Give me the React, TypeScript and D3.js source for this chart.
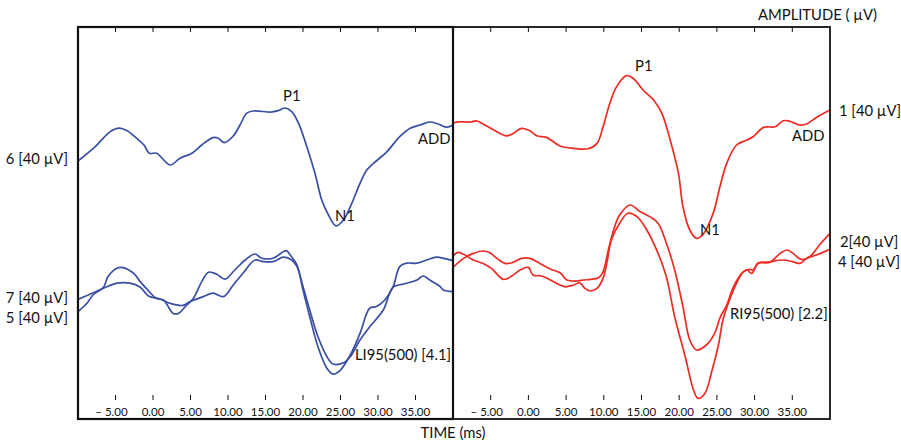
import React from 'react';
import * as d3 from 'd3';

// time (ms), amplitude (µV) relative to the channel offset
const ch6Left: [number, number][] = [
  [-10, -0.5], [-7.7, 6.7], [-5.7, 14.2], [-4.5, 15.9], [-3.5, 14.7], [-2.2, 10.9], [-1.2, 7.5], [-0.5, 3.4],
  [0.5, 3.4], [1.2, 0.9], [2.3, -2.5], [3.6, 0.9], [5.2, 3.4], [6.5, 7.5], [8.0, 11.2], [8.7, 10.9], [9.5, 8.7],
  [10.7, 12], [11.6, 17.5], [12.5, 23.4], [13.4, 24.5], [15.8, 24], [16.7, 24.7], [17.6, 26], [18.5, 24.2],
  [19.4, 18.4], [20.5, 6.7], [21.6, -6.7], [22.5, -20], [23.4, -27.5], [24.4, -32.9], [25.4, -30], [26.5, -21.7],
  [27.6, -11.7], [28.5, -5], [29.4, -1.7], [31.2, 4.2], [32.9, 11.7], [34.3, 15.9], [35.6, 17.5], [36.9, 19],
  [38.0, 18], [39.2, 16.4], [40, 17.5],
];
const ch7Left: [number, number][] = [
  [-10, -0.2], [-8.4, 2.4], [-6.6, 5.4], [-4.8, 7.9], [-3.1, 7.9], [-1.7, 5.9], [-0.6, 1.5], [0.9, 0], [2.3, -2.2],
  [4.0, -3.2], [4.9, -1.4], [6.7, 1.2], [8.0, 2.9], [9.4, 1.2], [10.7, 7], [12.0, 12.9], [13.6, 19.5], [14.7, 18.7],
  [16.0, 18.7], [17.4, 20.9], [18.5, 19.5], [19.2, 16.2], [20.0, 6.2], [20.9, -5.5], [22.0, -18.9], [23.2, -28.9],
  [24.0, -32.5], [25.4, -31.9], [26.3, -28.9], [27.6, -20.5], [28.9, -13.9], [30.7, -5.5], [32.0, 5.9], [33.4, 7.5],
  [35.2, 9.5], [36.0, 11.5], [36.9, 9.5], [38.3, 6.2], [38.7, 4.5], [40, 3.7],
];
const ch5Left: [number, number][] = [
  [-10, 0.2], [-8.8, 4.4], [-8.0, 8.5], [-6.6, 12.4], [-6.0, 17.7], [-4.8, 21.9], [-4.0, 22.2], [-2.6, 19.4],
  [-1.7, 15.2], [-0.8, 11.4], [0.5, 6.7], [1.4, 6], [2.3, 1], [2.7, -0.7], [3.4, -0.7], [4.5, 3.5], [5.4, 6.9],
  [6.5, 15.2], [7.4, 19.9], [8.5, 18.9], [9.6, 16.4], [10.9, 21], [12.3, 26], [13.6, 29], [14.5, 26.9], [16.0, 26.9],
  [17.4, 30.2], [17.8, 30.7], [18.3, 28.5], [19.2, 23.5], [20.0, 11], [20.9, -2.4], [22.0, -17.4], [23.2, -28.2],
  [24.0, -31], [24.9, -29.4], [26.3, -21.5], [27.6, -10.7], [28.9, 1.9], [29.8, 2.7], [30.9, 6], [32.0, 12.4],
  [32.9, 22.7], [33.8, 24.4], [35.2, 24.4], [36.5, 26], [37.8, 27.4], [38.9, 26.7], [40, 25.7],
];
const ch1Right: [number, number][] = [
  [-10, -6.4], [-9.1, -5.9], [-7.7, -6], [-6.9, -5.4], [-6.0, -7], [-4.4, -10.4], [-2.9, -12.9], [-2.0, -11.7],
  [-0.9, -9.2], [0.2, -10.4], [1.1, -12.9], [2.4, -13.7], [4.2, -18], [6.0, -19.2], [7.9, -19.4], [9.1, -16.7],
  [9.9, -8.4], [10.8, 3.4], [11.7, 11.7], [13.0, 17.2], [13.9, 15.9], [15.2, 10], [16.6, 5], [17.7, -1.7],
  [18.8, -15], [19.9, -31.7], [20.5, -48.4], [21.4, -60], [22.3, -64.2], [23.2, -62], [24.5, -51.7], [25.4, -38.4],
  [26.3, -26.7], [27.6, -17.5], [29.0, -15], [29.8, -13.4], [31.2, -8.7], [32.7, -8.4], [33.8, -5.4], [34.5, -5.4],
  [36.0, -7.5], [36.9, -7], [38.2, -3.7], [40, 0],
];
const ch2Right: [number, number][] = [
  [-10, -11.5], [-9.3, -9.7], [-8.4, -11], [-7.3, -13.5], [-6.0, -15.2], [-4.9, -17.7], [-3.3, -23.2], [-2.2, -21.5],
  [-1.1, -18.5], [0.0, -17.2], [0.6, -21], [1.8, -21.5], [2.9, -23.5], [4.2, -26], [4.9, -26.9], [6.0, -26],
  [6.8, -24.9], [7.5, -27.7], [8.2, -29], [9.1, -27.7], [9.9, -22.7], [10.4, -15.2], [11.0, -3.5], [12.1, 4.9],
  [13.2, 9.9], [14.4, 8.2], [15.7, 1.5], [17.2, -10.2], [18.3, -21.9], [19.4, -41.9], [20.8, -61.9], [21.9, -78.5],
  [22.5, -82.7], [23.4, -80.2], [24.3, -69.5], [25.2, -56], [25.8, -43.5], [26.5, -35.2], [27.6, -25.2],
  [28.5, -19.4], [29.4, -18.2], [29.8, -18.5], [30.5, -14.9], [32.0, -14.7], [33.4, -10.2], [34.3, -8.5],
  [35.1, -10.2], [36.2, -13.2], [37.3, -11.9], [38.6, -6], [40, -0.2],
];
const ch4Right: [number, number][] = [
  [-10, -9.2], [-8.6, -4.7], [-7.3, -2.2], [-6.0, -1.0], [-5.1, -1.9], [-4.0, -5.2], [-3.1, -7.2], [-2.2, -6.9],
  [-0.9, -4.7], [0.2, -4.7], [1.5, -7.2], [2.9, -10], [4.2, -11.9], [5.1, -15.5], [6.4, -16], [7.3, -15.5],
  [8.2, -15.2], [9.3, -14.4], [9.9, -11.4], [10.6, -0.5], [11.3, 9.5], [12.1, 17], [13.5, 22], [14.8, 18.7],
  [16.1, 16.2], [17.2, 12.9], [18.3, 2.9], [19.4, -10.5], [20.5, -28.9], [21.4, -45.5], [22.3, -50.5], [23.6, -48],
  [24.7, -42.2], [25.4, -34.5], [26.3, -28], [27.2, -18.9], [28.3, -12.2], [29.0, -10.5], [29.6, -12.2],
  [30.5, -7.2], [32.0, -6.4], [33.8, -5.5], [35.1, -6.4], [36.0, -7.2], [36.9, -4.7], [38.2, -3], [40, -0.2],
];

// channel offsets on the shared amplitude axis (µV)
const channelNames = ['6', '7', '5', '1', '2', '4'];
const channelOffsets = [129.5, 60, 53.5, 154.5, 93, 85];
const channelData = [ch6Left, ch7Left, ch5Left, ch1Right, ch2Right, ch4Right];
const channelPanel = [0, 0, 0, 1, 1, 1];

const tickTimes = [-5, 0, 5, 10, 15, 20, 25, 30, 35];
const tickLabels = ['\u2013 5.00', '0.00', '5.00', '10.00', '15.00', '20.00', '25.00', '30.00', '35.00'];

const BLUE = '#3a4ea3';
const RED = '#ee2b24';
const FONT = 'Lato, "Open Sans", sans-serif';
const FS = 14.8;

export default function App() {
  const top = 27;
  const bottom = 419;
  const panels = [
    d3.scaleLinear().domain([-10, 40]).range([78, 453]),
    d3.scaleLinear().domain([-10, 40]).range([453, 830]),
  ];
  const y = d3.scaleLinear().domain([0, 196]).range([bottom, top]);

  const traces = channelData.map((data, i) => {
    const x = panels[channelPanel[i]];
    const off = channelOffsets[i];
    const line = d3
      .line<[number, number]>()
      .x((d) => x(d[0]))
      .y((d) => y(off + d[1]))
      .curve(d3.curveCatmullRom.alpha(0.5));
    return { d: line(data) || '', color: channelPanel[i] === 0 ? BLUE : RED, name: channelNames[i] };
  });

  return (
    <svg width={901} height={442} style={{ display: 'block', position: 'absolute', left: 0, top: 0 }} fontFamily={FONT}>
      <rect width={901} height={442} fill="#fff" />
      {traces.map((t) => (
        <path key={t.name} d={t.d} fill="none" stroke={t.color} strokeWidth={1.7} />
      ))}

      {/* frame */}
      <rect x={78} y={top} width={752} height={bottom - top} fill="none" stroke="#111" strokeWidth={1.8} />
      <rect x={78} y={top} width={375} height={bottom - top} fill="none" stroke="#111" strokeWidth={2.2} />

      {/* ticks */}
      {panels.map((x, p) => (
        <g key={p}>
          {tickTimes.map((t, i) => (
            <g key={t}>
              <line x1={x(t)} x2={x(t)} y1={top} y2={top + 5} stroke="#111" strokeWidth={1} />
              <line x1={x(t)} x2={x(t)} y1={bottom - 24} y2={bottom - 19} stroke="#111" strokeWidth={1} />
              <text x={t < 0 ? x(t) - 4 : x(t)} y={bottom - 3} fontSize={11.5} textAnchor="middle" fill="#111">
                {tickLabels[i]}
              </text>
            </g>
          ))}
        </g>
      ))}

      <text x={453} y={438} fontSize={FS} textAnchor="middle" fill="#111">TIME (ms)</text>
      <text x={877} y={20} fontSize={FS} textAnchor="end" fill="#111">AMPLITUDE ( µV)</text>

      {/* channel labels */}
      <text x={68} y={164} fontSize={FS} textAnchor="end" fill="#111">6 [40 µV]</text>
      <text x={68} y={303} fontSize={FS} textAnchor="end" fill="#111">7 [40 µV]</text>
      <text x={68} y={323} fontSize={FS} textAnchor="end" fill="#111">5 [40 µV]</text>
      <text x={839} y={116} fontSize={FS} fill="#111">1 [40 µV]</text>
      <text x={840} y={247} fontSize={FS} fill="#111">2[40 µV]</text>
      <text x={838} y={267} fontSize={FS} fill="#111">4 [40 µV]</text>

      {/* annotations */}
      <text x={283} y={101} fontSize={FS} fill="#111">P1</text>
      <text x={335} y={221} fontSize={FS} fill="#111">N1</text>
      <text x={418} y={144} fontSize={FS} fill="#111">ADD</text>
      <text x={355} y={360} fontSize={FS} fill="#111">LI95(500) [4.1]</text>
      <text x={635} y={71} fontSize={FS} fill="#111">P1</text>
      <text x={700} y={235} fontSize={FS} fill="#111">N1</text>
      <text x={792} y={141} fontSize={FS} fill="#111">ADD</text>
      <text x={730} y={319} fontSize={FS} fill="#111">RI95(500) [2.2]</text>
    </svg>
  );
}
